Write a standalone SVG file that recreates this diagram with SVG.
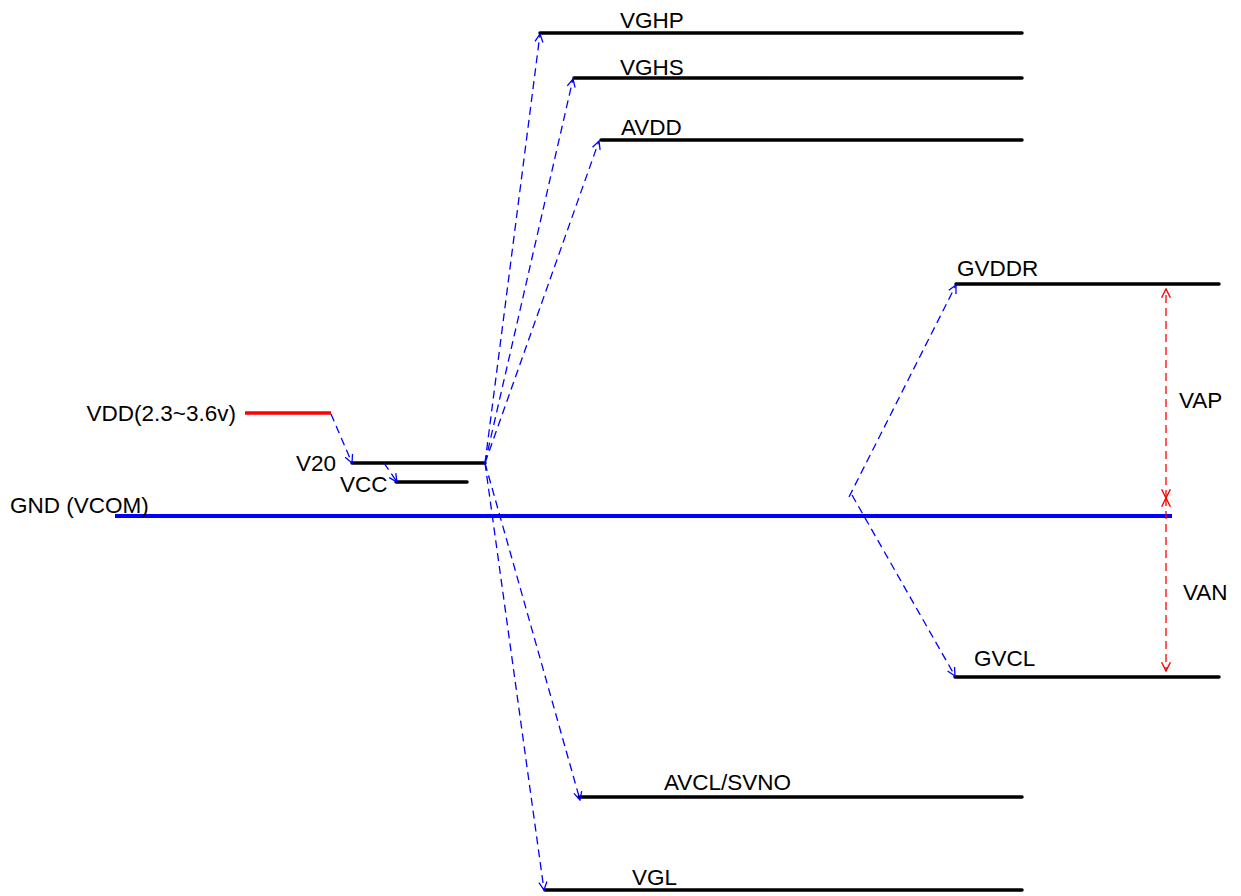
<svg xmlns="http://www.w3.org/2000/svg" width="1241" height="896" viewBox="0 0 1241 896">
<style>
text{font-family:"Liberation Sans",Arial,sans-serif;font-size:22.5px;fill:#000}
.lvl{stroke:#000;stroke-width:3.5;stroke-linecap:round;fill:none}
.gnd{stroke:#0000ff;stroke-width:4;fill:none}
.vdd{stroke:#ff0000;stroke-width:3.5;fill:none}
.ba{stroke:#0000ff;stroke-width:1.3;stroke-dasharray:8 5;fill:none;marker-end:url(#ab)}
.ra{stroke:#ff0000;stroke-width:1.3;stroke-dasharray:8 5;fill:none;marker-start:url(#ar);marker-end:url(#ar)}
</style>
<defs>
<marker id="ab" viewBox="0 0 10 10" refX="9" refY="5" markerWidth="10" markerHeight="10" markerUnits="userSpaceOnUse" orient="auto"><path d="M1,1 L9,5 L1,9" fill="none" stroke="#0000ff" stroke-width="1.3"/></marker>
<marker id="ar" viewBox="0 0 10 10" refX="9" refY="5" markerWidth="11" markerHeight="11" markerUnits="userSpaceOnUse" orient="auto-start-reverse"><path d="M1,1 L9,5 L1,9" fill="none" stroke="#ff0000" stroke-width="1.3"/></marker>
</defs>
<g id="gnd"><line class="gnd" x1="115" y1="516" x2="1172" y2="516"/><text x="10" y="513">GND (VCOM)</text></g>
<g id="vdd"><line class="vdd" x1="245" y1="413" x2="331" y2="413"/><text x="236" y="421" text-anchor="end">VDD(2.3~3.6v)</text></g>
<g id="v20"><line class="lvl" x1="352" y1="463" x2="485" y2="463"/><text x="336" y="471" text-anchor="end">V20</text></g>
<g id="vcc"><line class="lvl" x1="396" y1="482" x2="467" y2="482"/><text x="340" y="492">VCC</text></g>
<g id="vghp"><line class="lvl" x1="540" y1="33" x2="1022" y2="33"/><text x="620" y="28">VGHP</text></g>
<g id="vghs"><line class="lvl" x1="574" y1="78" x2="1022" y2="78"/><text x="620" y="75">VGHS</text></g>
<g id="avdd"><line class="lvl" x1="601" y1="140" x2="1022" y2="140"/><text x="621" y="135">AVDD</text></g>
<g id="gvddr"><line class="lvl" x1="956" y1="284" x2="1219" y2="284"/><text x="957" y="276">GVDDR</text></g>
<g id="gvcl"><line class="lvl" x1="955" y1="677" x2="1219" y2="677"/><text x="974" y="666">GVCL</text></g>
<g id="avcl"><line class="lvl" x1="579" y1="797" x2="1022" y2="797"/><text x="664" y="790">AVCL/SVNO</text></g>
<g id="vgl"><line class="lvl" x1="545" y1="890" x2="1022" y2="890"/><text x="632" y="885">VGL</text></g>
<g id="vap"><text x="1179" y="408">VAP</text></g>
<g id="van"><text x="1183" y="600">VAN</text></g>
<g id="connectors">
<line class="ba" x1="331" y1="414" x2="352" y2="463"/>
<line class="ba" x1="384" y1="463" x2="397" y2="482"/>
<line class="ba" x1="485" y1="463" x2="540" y2="34"/>
<line class="ba" x1="485" y1="463" x2="573" y2="79"/>
<line class="ba" x1="485" y1="463" x2="599" y2="141"/>
<line class="ba" x1="485" y1="463" x2="580" y2="800"/>
<line class="ba" x1="485" y1="463" x2="544" y2="890"/>
<line class="ba" x1="849" y1="497" x2="956" y2="285"/>
<line class="ba" x1="852" y1="495" x2="955" y2="676"/>
<line class="ra" x1="1166" y1="498" x2="1166" y2="289"/>
<line class="ra" x1="1166" y1="498" x2="1166" y2="671"/>
</g>
</svg>
